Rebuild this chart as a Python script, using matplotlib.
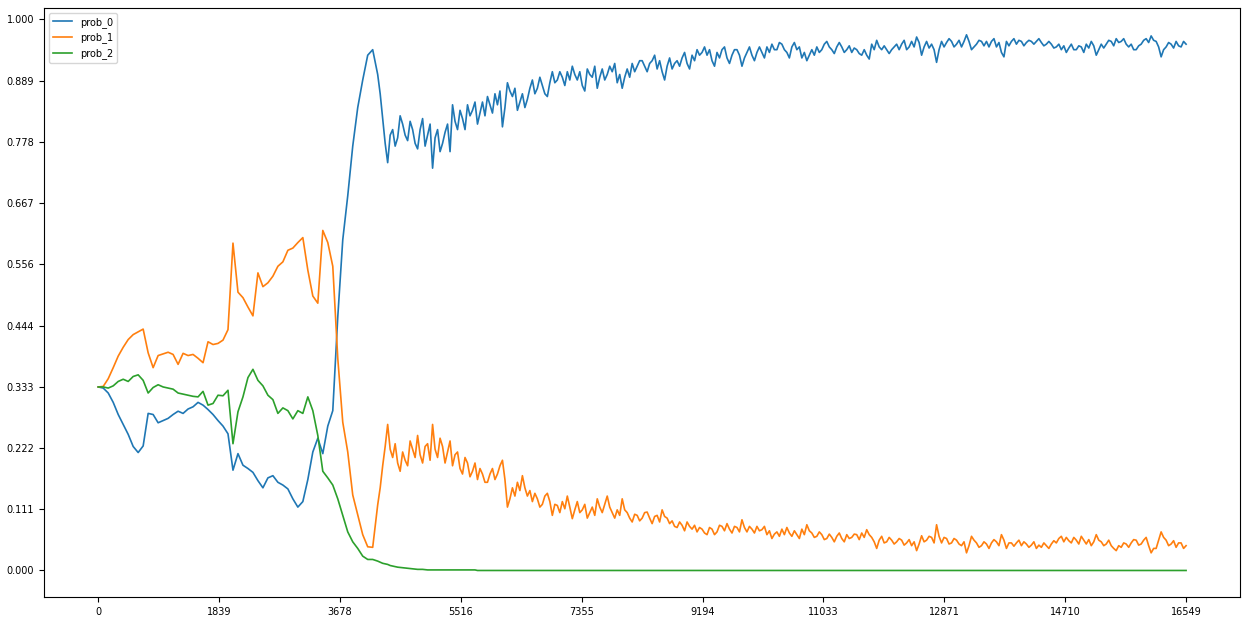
import numpy as np
import matplotlib
matplotlib.use("Agg")
import matplotlib.pyplot as plt

# probabilités lues sur l'image
# début : un point tous les ~76 pas, ensuite (zone bruitée) tous les ~38 pas
n_steps = 16549

prob_0_debut = [
    0.333, 0.331, 0.322, 0.305, 0.283, 0.265, 0.247, 0.225, 0.214, 0.226,
    0.285, 0.283, 0.268, 0.272, 0.276, 0.283, 0.289, 0.285, 0.293, 0.297,
    0.305, 0.300, 0.292, 0.283, 0.272, 0.262, 0.248, 0.182, 0.212, 0.191,
    0.185, 0.178, 0.163, 0.150, 0.168, 0.172, 0.160, 0.155, 0.148, 0.130,
    0.115, 0.125, 0.165, 0.215, 0.240, 0.212, 0.262, 0.290, 0.460, 0.600,
    0.680, 0.770, 0.840, 0.890, 0.935, 0.945,
]
prob_0_fin = [
    0.900, 0.865, 0.820, 0.775, 0.740, 0.790, 0.800, 0.770, 0.785, 0.825,
    0.810, 0.790, 0.780, 0.815, 0.800, 0.775, 0.765, 0.800, 0.820, 0.770,
    0.790, 0.810, 0.730, 0.785, 0.800, 0.760, 0.775, 0.795, 0.810, 0.760,
    0.845, 0.815, 0.800, 0.835, 0.820, 0.800, 0.845, 0.825, 0.835, 0.850,
    0.810, 0.830, 0.850, 0.825, 0.860, 0.845, 0.830, 0.865, 0.845, 0.870,
    0.805, 0.840, 0.885, 0.870, 0.860, 0.875, 0.835, 0.850, 0.865, 0.840,
    0.855, 0.875, 0.890, 0.865, 0.875, 0.895, 0.880, 0.865, 0.860, 0.885,
    0.905, 0.885, 0.890, 0.905, 0.895, 0.880, 0.905, 0.890, 0.915, 0.900,
    0.890, 0.905, 0.880, 0.870, 0.910, 0.900, 0.895, 0.915, 0.875, 0.895,
    0.910, 0.890, 0.900, 0.915, 0.905, 0.920, 0.885, 0.900, 0.875, 0.895,
    0.910, 0.895, 0.920, 0.905, 0.915, 0.925, 0.925, 0.915, 0.905, 0.920,
    0.925, 0.935, 0.910, 0.925, 0.905, 0.890, 0.915, 0.930, 0.910, 0.920,
    0.925, 0.915, 0.930, 0.940, 0.920, 0.910, 0.935, 0.925, 0.945, 0.935,
    0.940, 0.950, 0.935, 0.945, 0.925, 0.915, 0.940, 0.930, 0.945, 0.950,
    0.930, 0.920, 0.935, 0.945, 0.945, 0.935, 0.915, 0.930, 0.940, 0.950,
    0.935, 0.925, 0.940, 0.950, 0.940, 0.930, 0.950, 0.940, 0.955, 0.945,
    0.945, 0.958, 0.955, 0.945, 0.940, 0.930, 0.950, 0.958, 0.945, 0.950,
    0.930, 0.940, 0.925, 0.935, 0.945, 0.935, 0.950, 0.940, 0.945, 0.955,
    0.960, 0.950, 0.945, 0.938, 0.950, 0.958, 0.950, 0.940, 0.945, 0.952,
    0.940, 0.948, 0.945, 0.938, 0.935, 0.945, 0.935, 0.928, 0.955, 0.945,
    0.962, 0.950, 0.945, 0.952, 0.945, 0.938, 0.945, 0.950, 0.955, 0.945,
    0.955, 0.962, 0.945, 0.950, 0.960, 0.950, 0.968, 0.958, 0.935, 0.950,
    0.960, 0.948, 0.955, 0.945, 0.922, 0.945, 0.960, 0.950, 0.958, 0.965,
    0.960, 0.950, 0.955, 0.962, 0.950, 0.960, 0.972, 0.960, 0.945, 0.950,
    0.955, 0.962, 0.960, 0.952, 0.960, 0.950, 0.960, 0.965, 0.950, 0.958,
    0.940, 0.932, 0.960, 0.952, 0.960, 0.965, 0.955, 0.962, 0.960, 0.952,
    0.958, 0.962, 0.960, 0.955, 0.960, 0.965, 0.958, 0.952, 0.955, 0.960,
    0.955, 0.948, 0.950, 0.955, 0.945, 0.952, 0.940, 0.948, 0.955, 0.945,
    0.945, 0.952, 0.950, 0.940, 0.955, 0.948, 0.960, 0.952, 0.935, 0.945,
    0.955, 0.948, 0.955, 0.962, 0.960, 0.952, 0.965, 0.958, 0.960, 0.965,
    0.955, 0.950, 0.955, 0.945, 0.945, 0.952, 0.955, 0.962, 0.965, 0.958,
    0.970, 0.962, 0.960, 0.950, 0.932, 0.945, 0.950, 0.958, 0.955, 0.948,
    0.960, 0.952, 0.950, 0.960, 0.955,
]

prob_1_debut = [
    0.333, 0.334, 0.348, 0.368, 0.389, 0.405, 0.419, 0.428, 0.433, 0.438,
    0.395, 0.368, 0.390, 0.393, 0.396, 0.392, 0.374, 0.394, 0.390, 0.392,
    0.385, 0.377, 0.415, 0.410, 0.412, 0.418, 0.437, 0.594, 0.505, 0.495,
    0.478, 0.462, 0.540, 0.515, 0.522, 0.534, 0.552, 0.560, 0.581, 0.585,
    0.595, 0.604, 0.545, 0.498, 0.485, 0.617, 0.595, 0.552, 0.385, 0.269,
    0.215, 0.137, 0.101, 0.065, 0.043, 0.042,
]
prob_1_fin = [
    0.119, 0.150, 0.190, 0.225, 0.265, 0.220, 0.205, 0.230, 0.195, 0.180,
    0.215, 0.200, 0.190, 0.235, 0.220, 0.205, 0.245, 0.210, 0.195, 0.225,
    0.230, 0.200, 0.265, 0.220, 0.205, 0.240, 0.225, 0.195, 0.215, 0.235,
    0.190, 0.210, 0.215, 0.185, 0.175, 0.205, 0.195, 0.170, 0.180, 0.195,
    0.165, 0.185, 0.175, 0.160, 0.160, 0.175, 0.185, 0.165, 0.175, 0.190,
    0.200, 0.165, 0.115, 0.130, 0.150, 0.135, 0.160, 0.145, 0.172, 0.150,
    0.135, 0.145, 0.125, 0.140, 0.130, 0.115, 0.120, 0.135, 0.140, 0.125,
    0.100, 0.120, 0.118, 0.105, 0.125, 0.112, 0.135, 0.115, 0.094, 0.110,
    0.125, 0.105, 0.110, 0.120, 0.095, 0.105, 0.115, 0.100, 0.130, 0.115,
    0.105, 0.120, 0.135, 0.115, 0.105, 0.095, 0.110, 0.100, 0.130, 0.110,
    0.105, 0.095, 0.088, 0.102, 0.100, 0.090, 0.095, 0.105, 0.106, 0.095,
    0.085, 0.098, 0.100, 0.088, 0.110, 0.098, 0.095, 0.085, 0.090, 0.080,
    0.078, 0.088, 0.082, 0.072, 0.088, 0.080, 0.075, 0.082, 0.070, 0.078,
    0.075, 0.068, 0.065, 0.078, 0.075, 0.065, 0.070, 0.082, 0.080, 0.072,
    0.085, 0.075, 0.068, 0.080, 0.078, 0.070, 0.092, 0.078, 0.070, 0.080,
    0.075, 0.068, 0.080, 0.072, 0.074, 0.080, 0.065, 0.072, 0.058, 0.066,
    0.070, 0.062, 0.075, 0.065, 0.078, 0.068, 0.062, 0.072, 0.065, 0.058,
    0.075, 0.065, 0.083, 0.072, 0.068, 0.060, 0.062, 0.070, 0.065, 0.056,
    0.058, 0.066, 0.060, 0.052, 0.062, 0.068, 0.058, 0.052, 0.065, 0.058,
    0.060, 0.066, 0.065, 0.056, 0.068, 0.060, 0.074, 0.065, 0.060, 0.052,
    0.040, 0.055, 0.062, 0.050, 0.052, 0.060, 0.055, 0.048, 0.052, 0.058,
    0.055, 0.046, 0.050, 0.056, 0.045, 0.052, 0.036, 0.048, 0.063, 0.052,
    0.055, 0.062, 0.060, 0.050, 0.083, 0.062, 0.050, 0.060, 0.058, 0.048,
    0.050, 0.058, 0.055, 0.048, 0.045, 0.052, 0.032, 0.045, 0.062, 0.055,
    0.050, 0.042, 0.045, 0.052, 0.048, 0.040, 0.050, 0.056, 0.052, 0.045,
    0.065, 0.055, 0.040, 0.050, 0.050, 0.044, 0.050, 0.055, 0.045, 0.052,
    0.048, 0.042, 0.046, 0.052, 0.040, 0.046, 0.042, 0.050, 0.045, 0.040,
    0.048, 0.054, 0.050, 0.058, 0.062, 0.052, 0.060, 0.054, 0.050, 0.060,
    0.055, 0.048, 0.062, 0.055, 0.048, 0.056, 0.045, 0.052, 0.065, 0.055,
    0.052, 0.045, 0.048, 0.055, 0.045, 0.040, 0.036, 0.045, 0.042, 0.050,
    0.048, 0.042, 0.050, 0.056, 0.055, 0.046, 0.048, 0.055, 0.060, 0.045,
    0.032, 0.040, 0.040, 0.055, 0.070, 0.060, 0.055, 0.045, 0.048, 0.054,
    0.042, 0.050, 0.050, 0.040, 0.045,
]

prob_2_debut = [
    0.333, 0.333, 0.331, 0.335, 0.343, 0.347, 0.343, 0.352, 0.355, 0.345,
    0.322, 0.332, 0.337, 0.333, 0.331, 0.329, 0.322, 0.320, 0.318, 0.316,
    0.315, 0.325, 0.300, 0.303, 0.318, 0.317, 0.327, 0.230, 0.288, 0.315,
    0.350, 0.365, 0.345, 0.335, 0.318, 0.310, 0.285, 0.295, 0.290, 0.275,
    0.290, 0.285, 0.315, 0.290, 0.245, 0.180, 0.168, 0.155, 0.130, 0.100,
    0.070, 0.052, 0.040, 0.026, 0.020, 0.020,
]
prob_2_fin = [
    0.017, 0.015, 0.013, 0.012, 0.011, 0.009, 0.008, 0.007, 0.006, 0.0055,
    0.005, 0.0045, 0.004, 0.0035, 0.003, 0.0025, 0.002, 0.002, 0.002, 0.0015,
] + [0.001] * 20 + [0.0] * 285

prob_0 = prob_0_debut + prob_0_fin
prob_1 = prob_1_debut + prob_1_fin
prob_2 = prob_2_debut + prob_2_fin

pas = n_steps / (len(prob_0_debut) + (len(prob_0_fin) - 1) / 2)
steps = np.concatenate([
    np.arange(len(prob_0_debut)) * pas,
    len(prob_0_debut) * pas + np.arange(len(prob_0_fin)) * pas / 2,
])

fig, ax = plt.subplots(figsize=(12.53, 6.17), dpi=100)
ax.plot(steps, prob_0, color="#1f77b4", lw=1.2, label="prob_0")
ax.plot(steps, prob_1, color="#ff7f0e", lw=1.2, label="prob_1")
ax.plot(steps, prob_2, color="#2ca02c", lw=1.2, label="prob_2")

xt = np.linspace(0, n_steps, 10)
ax.set_xticks(xt)
ax.set_xticklabels([f"{int(round(v))}" for v in xt], fontsize=7)
yt = np.linspace(0, 1, 10)
ax.set_yticks(yt)
ax.set_yticklabels([f"{v:.3f}" for v in yt], fontsize=7)

ax.legend(loc="upper left", fontsize=7)
fig.subplots_adjust(left=0.035, right=0.99, bottom=0.032, top=0.987)
fig.savefig("out.png", dpi=100)
